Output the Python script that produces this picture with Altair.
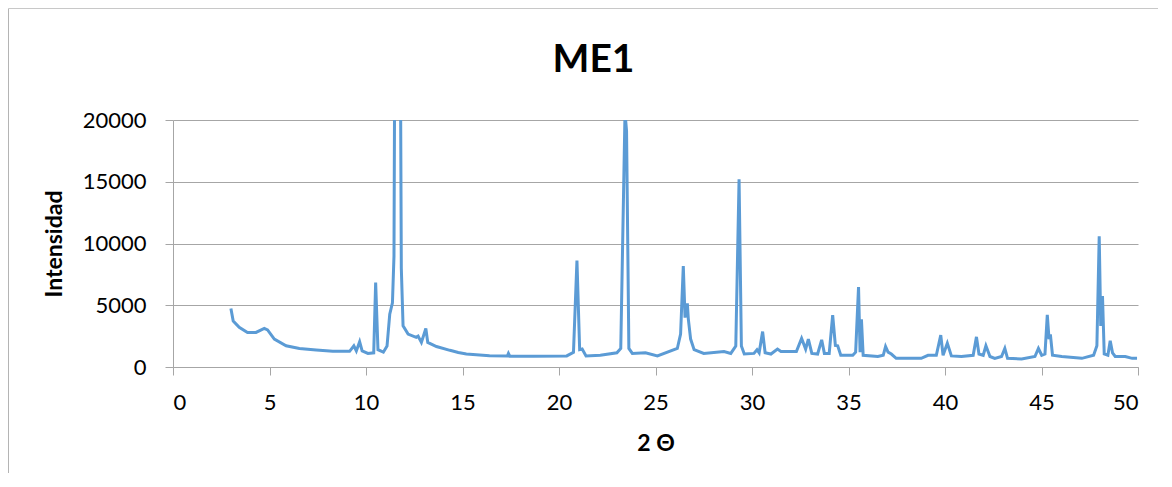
import altair as alt
import pandas as pd

# 2θ positions and intensities
two_theta = [
    3.0, 3.12, 3.43, 3.86, 4.3, 4.73, 4.9, 5.25, 5.86, 6.55, 7.42, 8.28, 9.15,
    9.37, 9.5, 9.67, 9.8, 10.1, 10.4, 10.5, 10.62, 10.9, 11.09, 11.23, 11.37,
    11.45, 11.5, 11.63, 11.77, 11.83, 11.92, 12.18, 12.6, 12.7, 12.87, 13.1,
    13.2, 13.65, 14.35, 14.78, 15.2, 16.4, 17.33, 17.38, 17.45, 18.7, 20.4,
    20.75, 20.93, 21.07, 21.2, 21.4, 22.14, 23.0, 23.2, 23.42, 23.5, 23.62,
    23.8, 24.48, 25.1, 26.13, 26.3, 26.44, 26.53, 26.65, 26.7, 26.82, 27.0,
    27.5, 28.55, 28.9, 29.16, 29.33, 29.45, 29.6, 30.1, 30.26, 30.37, 30.55,
    30.68, 30.98, 31.32, 31.5, 32.3, 32.57, 32.78, 32.92, 33.1, 33.4, 33.61,
    33.75, 34.0, 34.18, 34.32, 34.44, 34.6, 35.22, 35.37, 35.52, 35.6, 35.67,
    35.76, 36.52, 36.8, 36.92, 37.05, 37.22, 37.47, 38.77, 39.12, 39.55,
    39.78, 39.9, 40.12, 40.33, 40.85, 41.46, 41.63, 41.76, 41.98, 42.12,
    42.33, 42.58, 42.93, 43.1, 43.24, 43.97, 44.66, 44.84, 45.01, 45.18,
    45.3, 45.39, 45.46, 45.57, 46.05, 47.09, 47.7, 47.87, 47.99, 48.07,
    48.16, 48.25, 48.44, 48.56, 48.68, 48.82, 49.34, 49.7, 49.95,
]
intensity = [
    4730, 3730, 3220, 2800, 2800, 3120, 3000, 2260, 1720, 1500, 1370, 1270, 1270,
    1720, 1300, 2040, 1300, 1100, 1150, 6830, 1400, 1200, 1700, 4270, 5200,
    9000, 30000, 80000, 30000, 8000, 3330, 2660, 2400, 2500, 1990, 3120,
    1990, 1660, 1350, 1180, 1050, 910, 900, 1100, 870, 870, 900,
    1180, 8620, 1400, 1450, 900, 950, 1150, 1500, 20600, 19100, 1500,
    1100, 1150, 900, 1500, 2660, 8170, 4000, 5160, 3900, 2260, 1400,
    1100, 1250, 1100, 1700, 15210, 1700, 1050, 1100, 1400, 1150, 2870,
    1150, 1050, 1450, 1250, 1250, 2310, 1450, 2260, 1100, 1050, 2200,
    1100, 1100, 4190, 1750, 1720, 950, 950, 1200, 6470, 1200, 3870,
    950, 850, 950, 1660, 1200, 1050, 700, 700, 950, 950,
    2580, 950, 1930, 900, 850, 950, 2440, 1050, 950, 1720,
    850, 700, 850, 1500, 700, 650, 850, 1500, 950, 1050,
    4220, 2260, 2640, 950, 850, 700, 950, 1720, 10590, 3330,
    5750, 1050, 950, 2120, 1150, 850, 850, 700, 700,
]

x_ticks = [0, 5, 10, 15, 20, 25, 30, 35, 40, 45, 50]
y_ticks = [0, 5000, 10000, 15000, 20000]

df = pd.DataFrame({"x": two_theta, "y": intensity})

FONT = "Lato"
GRID = "#a6a6a6"

line = alt.Chart(df).mark_line(color="#5b9bd5", strokeWidth=3, clip=True).encode(
    x=alt.X("x:Q", scale=alt.Scale(domain=[0, 50], nice=False),
            axis=alt.Axis(values=x_ticks, title="2 Θ", grid=False, tickSize=8,
                          labelPadding=17, titlePadding=19)),
    y=alt.Y("y:Q", scale=alt.Scale(domain=[0, 20000], nice=False),
            axis=alt.Axis(values=y_ticks, title="Intensidad", format="d", grid=True,
                          tickSize=8, labelPadding=19, titlePadding=16)),
)

frame = alt.Data(values=[{}])
left_border = alt.Chart(frame).mark_rule(color="#b4b4b4", strokeWidth=1).encode(
    x=alt.value(-164.5), y=alt.value(-111.5), y2=alt.value(440))
top_border = alt.Chart(frame).mark_rule(color="#c8c8c8", strokeWidth=1).encode(
    x=alt.value(-164.5), x2=alt.value(990), y=alt.value(-111.5))

chart = alt.layer(left_border, top_border, line).properties(
    width=965, height=247,
    title=alt.TitleParams("ME1", anchor="middle", frame="group", dx=-62,
                          offset=-103, baseline="alphabetic",
                          font=FONT, fontSize=39, fontWeight="bold",
                          color="#000000"),
    padding={"left": 165, "top": 112, "right": 20, "bottom": 106},
    autosize="none",
    background="white",
).configure_view(stroke=None).configure_axis(
    domainColor=GRID, tickColor=GRID, gridColor=GRID, gridWidth=1,
    labelFont=FONT, labelFontSize=22, labelColor="#000000",
    titleFont=FONT, titleFontSize=23, titleFontWeight="bold", titleColor="#000000",
)

chart.save("out.html", embed_options={"renderer": "svg", "actions": False})
